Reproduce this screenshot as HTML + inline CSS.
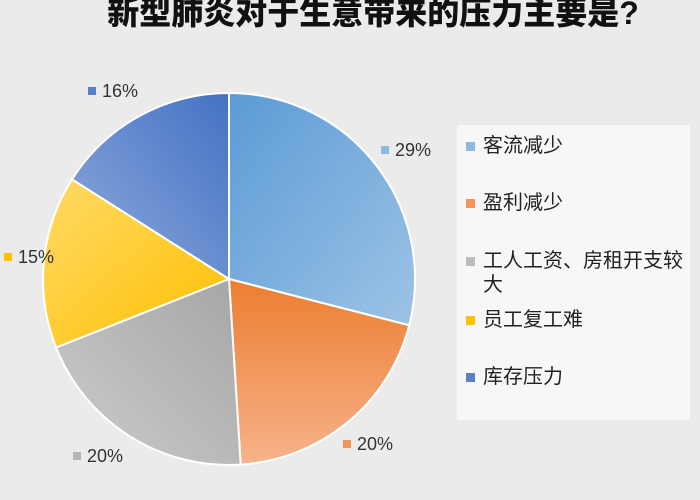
<!DOCTYPE html>
<html><head><meta charset="utf-8"><style>
body{margin:0;width:700px;height:500px;background:#ebebeb;overflow:hidden;font-family:"Liberation Sans","Noto Sans CJK SC",sans-serif;}
.t{position:absolute;left:0;width:746px;text-align:center;top:-12px;font-size:32px;font-weight:900;color:#111;}
.lg{position:absolute;left:457px;top:125px;width:233px;height:295px;background:#f7f7f7;}
.it{position:absolute;left:26px;width:208px;font-size:20px;color:#222;line-height:24px;}
.sw{position:absolute;left:-17px;top:8px;width:9px;height:9px;}
.lb{position:absolute;font-size:18px;color:#333;}
.lb i{display:inline-block;width:8px;height:8px;margin-right:6px;vertical-align:2px;}
</style></head><body>
<div class="t">新型肺炎对于生意带来的压力主要是?</div>
<svg width="700" height="500" style="position:absolute;left:0;top:0">
<defs>
<linearGradient id="b" x1="0" y1="0" x2="1" y2="1"><stop offset="0" stop-color="#5b9bd5"/><stop offset="1" stop-color="#9dc3e6"/></linearGradient>
<linearGradient id="o" x1="0" y1="0" x2="0" y2="1"><stop offset="0" stop-color="#ed7d31"/><stop offset="1" stop-color="#f6b38a"/></linearGradient>
<linearGradient id="g" x1="1" y1="0" x2="0" y2="1"><stop offset="0" stop-color="#a5a5a5"/><stop offset="1" stop-color="#cdcdcd"/></linearGradient>
<linearGradient id="y" x1="1" y1="1" x2="0" y2="0"><stop offset="0" stop-color="#ffc000"/><stop offset="1" stop-color="#ffd966"/></linearGradient>
<linearGradient id="d" x1="1" y1="0" x2="0" y2="1"><stop offset="0" stop-color="#4472c4"/><stop offset="1" stop-color="#8faadc"/></linearGradient>
</defs>
<g stroke="#fff" stroke-width="2">
<path d="M229,279 L229,93 A186,186 0 0 1 409.2,325.3 Z" fill="url(#b)"/>
<path d="M229,279 L409.2,325.3 A186,186 0 0 1 240.7,464.6 Z" fill="url(#o)"/>
<path d="M229,279 L240.7,464.6 A186,186 0 0 1 56.1,347.5 Z" fill="url(#g)"/>
<path d="M229,279 L56.1,347.5 A186,186 0 0 1 72,179.3 Z" fill="url(#y)"/>
<path d="M229,279 L72,179.3 A186,186 0 0 1 229,93 Z" fill="url(#d)"/>
</g></svg>
<div class="lb" style="left:88px;top:81px"><i style="background:#5b7fc9"></i>16%</div>
<div class="lb" style="left:381px;top:140px"><i style="background:#8db8e3"></i>29%</div>
<div class="lb" style="left:4px;top:247px"><i style="background:#ffc000"></i>15%</div>
<div class="lb" style="left:343px;top:434px"><i style="background:#f0965a"></i>20%</div>
<div class="lb" style="left:73px;top:446px"><i style="background:#b5b5b5"></i>20%</div>
<div class="lg">
<div class="it" style="top:9px"><span class="sw" style="background:#8db8e3"></span>客流减少</div>
<div class="it" style="top:66px"><span class="sw" style="background:#f0965a"></span>盈利减少</div>
<div class="it" style="top:124px"><span class="sw" style="background:#bdbdbd"></span>工人工资、房租开支较大</div>
<div class="it" style="top:183px"><span class="sw" style="background:#ffc000"></span>员工复工难</div>
<div class="it" style="top:240px"><span class="sw" style="background:#5b7fc9"></span>库存压力</div>
</div>
</body></html>
